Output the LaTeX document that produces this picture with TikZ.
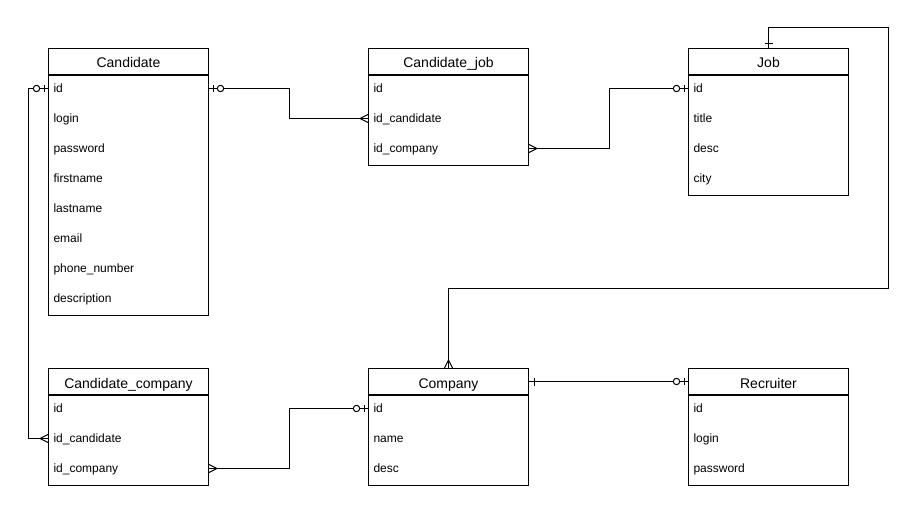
\documentclass[tikz,border=0pt]{standalone}
\usepackage{fontspec}
\setmainfont{Liberation Sans}
\begin{document}
\begin{tikzpicture}[x=1pt,y=-1pt,line width=1pt,
  hdr/.style={draw, minimum width=160pt, minimum height=26pt, inner sep=0pt, text height=15pt, text depth=2pt, anchor=north west, font=\fontsize{14}{16}\selectfont},
  body/.style={draw, minimum width=160pt, inner sep=0pt, anchor=north west},
  row/.style={minimum width=160pt, text width=150pt, inner xsep=5pt, inner ysep=0pt, minimum height=30pt, text height=12pt, text depth=4pt, align=left, anchor=west, font=\fontsize{12}{14}\selectfont},
  onezero/.pic={\draw (-4,-3.5) -- (-4,3.5); \draw[fill=white] (-11.5,0) circle[radius=3.2];},
  many/.pic={\draw (-8,0) -- (0,-4); \draw (-8,0) -- (0,4);},
  one/.pic={\draw (-5,-4) -- (-5,4);}
]
\useasboundingbox (0,0) rectangle (918,508);
% Candidate
\node[hdr] (cand) at (48,48) {Candidate};
\node[body, minimum height=240pt] (candb) at (cand.south west) {};
\node[row] (cand-id) at (48,88.5) {id};
\node[row] (cand-login) at (48,118.5) {login};
\node[row] (cand-pw) at (48,148.5) {password};
\node[row] (cand-fn) at (48,178.5) {firstname};
\node[row] (cand-ln) at (48,208.5) {lastname};
\node[row] (cand-em) at (48,238.5) {email};
\node[row] (cand-ph) at (48,268.5) {phone\_number};
\node[row] (cand-de) at (48,298.5) {description};
% Candidate_job
\node[hdr] (cj) at (368,48) {Candidate\_job};
\node[body, minimum height=90pt] (cjb) at (cj.south west) {};
\node[row] (cj-id) at (368,88.5) {id};
\node[row] (cj-cand) at (368,118.5) {id\_candidate};
\node[row] (cj-comp) at (368,148.5) {id\_company};
% Job
\node[hdr] (job) at (688,48) {Job};
\node[body, minimum height=120pt] (jobb) at (job.south west) {};
\node[row] (job-id) at (688,88.5) {id};
\node[row] (job-title) at (688,118.5) {title};
\node[row] (job-desc) at (688,148.5) {desc};
\node[row] (job-city) at (688,178.5) {city};
% Candidate_company
\node[hdr] (cc) at (48,368) {Candidate\_company};
\node[body, minimum height=90pt] (ccb) at (cc.south west) {};
\node[row] (cc-id) at (48,408.5) {id};
\node[row] (cc-cand) at (48,438.5) {id\_candidate};
\node[row] (cc-comp) at (48,468.5) {id\_company};
% Company
\node[hdr] (comp) at (368,368) {Company};
\node[body, minimum height=90pt] (compb) at (comp.south west) {};
\node[row] (comp-id) at (368,408.5) {id};
\node[row] (comp-name) at (368,438.5) {name};
\node[row] (comp-desc) at (368,468.5) {desc};
% Recruiter
\node[hdr] (rec) at (688,368) {Recruiter};
\node[body, minimum height=90pt] (recb) at (rec.south west) {};
\node[row] (rec-id) at (688,408.5) {id};
\node[row] (rec-login) at (688,438.5) {login};
\node[row] (rec-pw) at (688,468.5) {password};
% connectors
\draw (cand-id.east) -- ++(80,0) |- (cj-cand.west);
\draw (cj-comp.east) -- ++(80,0) |- (job-id.west);
\draw (cand-id.west) -- ++(-20,0) |- (cc-cand.west);
\draw (cc-comp.east) -- ++(80,0) |- (comp-id.west);
\draw (job.north) -- ++(0,-20) -- ++(120,0) -- ++(0,260) -| (comp.north);
\draw (comp.east) -- (rec.west);
% markers
\pic[rotate=180] at (cand-id.east) {onezero};
\pic at (cj-cand.west) {many};
\pic[rotate=180] at (cj-comp.east) {many};
\pic at (job-id.west) {onezero};
\pic at (cand-id.west) {onezero};
\pic at (cc-cand.west) {many};
\pic[rotate=180] at (cc-comp.east) {many};
\pic at (comp-id.west) {onezero};
\pic[rotate=180] at (comp.east) {one};
\pic at (rec.west) {onezero};
\draw ([shift={(-4,-4)}]job.north) -- ([shift={(4,-4)}]job.north);
\draw ([shift={(0,-8)}]comp.north) -- ([shift={(-4,0)}]comp.north);
\draw ([shift={(0,-8)}]comp.north) -- ([shift={(4,0)}]comp.north);
\end{tikzpicture}
\end{document}
